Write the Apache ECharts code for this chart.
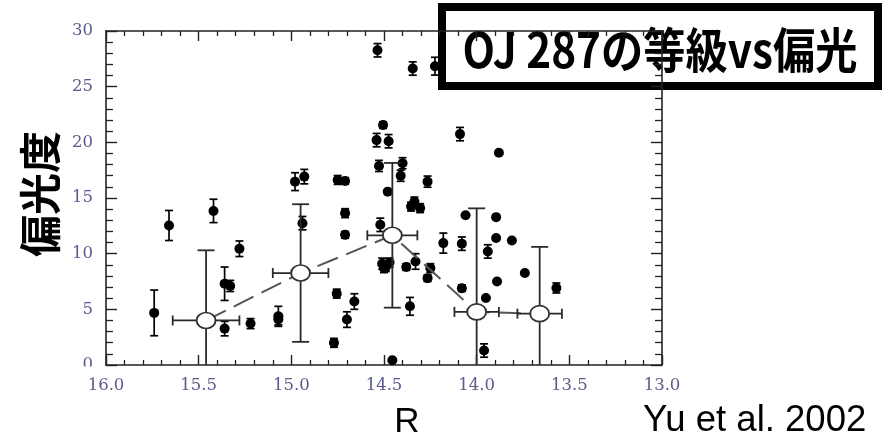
<!DOCTYPE html>
<html>
<head>
<meta charset="utf-8">
<title>OJ 287の等級vs偏光</title>
<script src="https://cdn.jsdelivr.net/npm/echarts@6/dist/echarts.min.js"></script>
<style>
  html, body { margin: 0; padding: 0; background: #fff; }
  #chart { width: 887px; height: 436px; }
</style>
</head>
<body>
<div id="chart"></div>
<script>
// Individual observations: R magnitude, polarization degree (%) and its error
const magR = [
  15.74, 15.66, 15.42, 15.36, 15.36, 15.33, 15.28, 15.22, 15.07, 15.07,
  14.98, 14.93, 14.94, 14.77, 14.755, 14.70, 14.66, 14.71, 14.71, 14.75,
  14.71, 14.535, 14.505, 14.54, 14.475, 14.527, 14.40, 14.41, 14.265, 14.48,
  14.345, 14.225, 14.09, 13.88, 14.336, 14.354, 14.305, 14.06, 14.52, 14.51,
  14.49, 14.47, 14.50, 14.38, 14.33, 14.25, 14.265, 14.36, 14.18, 14.08,
  14.08, 14.455, 13.95, 13.96, 13.94, 13.895, 13.895, 13.89, 13.81, 13.74,
  13.57
];
const polP = [
  4.68, 12.53, 13.84, 3.27, 7.3, 7.1, 10.44, 3.72, 4.37, 4.1,
  16.47, 16.92, 12.74, 1.99, 6.41, 4.08, 5.7, 13.64, 11.69, 16.62,
  16.53, 28.27, 21.55, 20.2, 20.1, 17.88, 18.12, 17.0, 16.47, 15.57,
  26.63, 26.84, 20.74, 19.07, 14.68, 14.23, 14.09, 13.45, 12.59, 9.1,
  8.8, 9.2, 8.7, 8.8, 9.3, 8.7, 7.8, 5.27, 10.95, 10.9,
  6.9, 0.43, 6.02, 1.3, 10.2, 13.28, 11.4, 7.5, 11.18, 8.26,
  6.92
];
const polErr = [
  2.05, 1.35, 1.05, 0.65, 1.5, 0.5, 0.7, 0.45, 0.9, 0.5,
  0.8, 0.65, 0.6, 0.4, 0.4, 0.7, 0.7, 0.4, 0.3, 0.4,
  0.3, 0.6, 0.3, 0.6, 0.6, 0.5, 0.5, 0.5, 0.5, 0,
  0.6, 0.8, 0.6, 0, 0.4, 0.4, 0.4, 0, 0.6, 0.5,
  0.4, 0.4, 0.4, 0.3, 0.7, 0.4, 0.3, 0.8, 0.9, 0.6,
  0.3, 0, 0, 0.6, 0.6, 0, 0, 0, 0, 0,
  0.45
];

// Binned averages with their spread in magnitude and polarization
const binR = [15.46, 14.95, 14.455, 14.00, 13.66];
const binP = [4.0, 8.26, 11.65, 4.77, 4.61];
const binRErr = [0.18, 0.15, 0.135, 0.12, 0.12];
const binPErr = [6.3, 6.18, 6.5, 9.3, 6.0];

// Axis ranges and label texts
const xMin = 13, xMax = 16, xStep = 0.5;
const yMin = 0, yMax = 30, yStep = 5;
const titleText = 'OJ 287の等級vs偏光';
const yName = '偏光度';
const xName = 'R';
const sourceText = 'Yu et al. 2002';

const obsData = magR.map((r, i) => [r, polP[i], polErr[i]]);
const binData = binR.map((r, i) => [r, binP[i], binRErr[i], binPErr[i]]);

const tickColor = '#5a5b8a';
const frameColor = '#222';

function lineEl(x1, y1, x2, y2, color, w) {
  return { type: 'line', shape: { x1, y1, x2, y2 }, style: { stroke: color, lineWidth: w } };
}

// Vertical error bars with short caps for the single observations
function renderObsErr(params, api) {
  const x = api.value(0), y = api.value(1), e = api.value(2);
  const children = [];
  if (e > 0) {
    const top = api.coord([x, y + e]);
    const low = Math.max(y - e, yMin);
    const bot = api.coord([x, low]);
    const cap = 4;
    children.push(lineEl(top[0], top[1], bot[0], bot[1], '#000', 1.7));
    children.push(lineEl(top[0] - cap, top[1], top[0] + cap, top[1], '#000', 1.7));
    if (y - e >= yMin) children.push(lineEl(bot[0] - cap, bot[1], bot[0] + cap, bot[1], '#000', 1.7));
  }
  return { type: 'group', children };
}

// Cross-shaped error bars for the binned averages
function renderBinErr(params, api) {
  const x = api.value(0), y = api.value(1), ex = api.value(2), ey = api.value(3);
  const col = '#2a2a2a', w = 1.8;
  const c = api.coord([x, y]);
  const left = api.coord([x + ex, y]);
  const right = api.coord([x - ex, y]);
  const top = api.coord([x, y + ey]);
  const low = Math.max(y - ey, yMin);
  const bot = api.coord([x, low]);
  const capV = 8.5, capH = 5;
  const children = [
    lineEl(left[0], c[1], right[0], c[1], col, w),
    lineEl(left[0], c[1] - capH, left[0], c[1] + capH, col, w),
    lineEl(right[0], c[1] - capH, right[0], c[1] + capH, col, w),
    lineEl(c[0], top[1], c[0], bot[1], col, w),
    lineEl(c[0] - capV, top[1], c[0] + capV, top[1], col, w)
  ];
  if (y - ey >= yMin) children.push(lineEl(c[0] - capV, bot[1], c[0] + capV, bot[1], col, w));
  return { type: 'group', children };
}

const tickLabelStyle = {
  fontFamily: 'DejaVu Serif',
  fontSize: 16.5,
  color: tickColor
};

function xAxisCfg(pos, labels) {
  return {
    type: 'value',
    position: pos,
    min: xMin, max: xMax, interval: xStep,
    inverse: true,
    axisLine: { show: true, onZero: false, lineStyle: { color: frameColor, width: 1.6 } },
    axisTick: { show: true, inside: true, length: 10, lineStyle: { color: frameColor, width: 1.4 } },
    minorTick: { show: true, splitNumber: 5, length: 5, lineStyle: { color: frameColor, width: 1.3 } },
    splitLine: { show: false },
    axisLabel: Object.assign({ show: labels, margin: 12, formatter: v => v.toFixed(1) }, tickLabelStyle)
  };
}

function yAxisCfg(pos, labels) {
  return {
    type: 'value',
    position: pos,
    min: yMin, max: yMax, interval: yStep,
    axisLine: { show: true, onZero: false, lineStyle: { color: frameColor, width: 1.6 } },
    axisTick: { show: true, inside: true, length: 11, lineStyle: { color: frameColor, width: 1.4 } },
    minorTick: { show: true, splitNumber: 5, length: 7, lineStyle: { color: frameColor, width: 1.3 } },
    splitLine: { show: false },
    axisLabel: Object.assign({ show: labels, margin: 13 }, tickLabelStyle)
  };
}

const xBottom = xAxisCfg('bottom', true);
xBottom.name = xName;
xBottom.nameLocation = 'middle';
xBottom.nameGap = 40;
xBottom.nameTextStyle = {
  fontFamily: 'Liberation Sans', fontSize: 35, color: '#000', padding: [0, 0, 0, 46]
};

const yLeft = yAxisCfg('left', true);
yLeft.name = yName;
yLeft.nameLocation = 'middle';
yLeft.nameGap = 43;
yLeft.nameRotate = 90;
yLeft.nameTextStyle = {
  fontFamily: 'Noto Sans CJK JP', fontSize: 42, fontWeight: 'bold', color: '#000',
  padding: [0, 0, 0, 8]
};

const chart = echarts.init(document.getElementById('chart'), null, { renderer: 'canvas' });

chart.setOption({
  backgroundColor: '#fff',
  animation: false,
  grid: { left: 106, right: 225, top: 31, bottom: 71, containLabel: false, outerBoundsMode: 'none' },
  xAxis: [xBottom, xAxisCfg('top', false)],
  yAxis: [yLeft, yAxisCfg('right', false)],
  series: [
    {
      name: 'obsErr',
      type: 'custom',
      xAxisIndex: 0, yAxisIndex: 0,
      renderItem: renderObsErr,
      data: obsData,
      z: 2,
      silent: true
    },
    {
      name: 'obs',
      type: 'scatter',
      xAxisIndex: 0, yAxisIndex: 0,
      data: obsData.map(d => [d[0], d[1]]),
      symbol: 'circle',
      symbolSize: 10,
      itemStyle: { color: '#000', opacity: 1 },
      z: 3,
      silent: true
    },
    {
      name: 'binTrend',
      type: 'line',
      xAxisIndex: 0, yAxisIndex: 0,
      data: binData.map(d => [d[0], d[1]]),
      showSymbol: false,
      symbol: 'none',
      lineStyle: { color: '#555', width: 2, type: [22, 9] },
      z: 4,
      silent: true
    },
    {
      name: 'binErr',
      type: 'custom',
      xAxisIndex: 0, yAxisIndex: 0,
      renderItem: renderBinErr,
      data: binData,
      z: 5,
      silent: true
    },
    {
      name: 'bin',
      type: 'scatter',
      xAxisIndex: 0, yAxisIndex: 0,
      data: binData.map(d => [d[0], d[1]]),
      symbol: 'circle',
      symbolSize: [19, 16],
      itemStyle: { color: '#fff', borderColor: '#333', borderWidth: 1.8, opacity: 1 },
      z: 6,
      silent: true
    }
  ],
  graphic: [
    // strip under the frame that trims the lowest y tick label
    {
      type: 'rect',
      shape: { x: 50, y: 366.5, width: 54, height: 11 },
      style: { fill: '#fff' },
      z: 50,
      silent: true
    },
    {
      type: 'group',
      z: 100,
      children: [
        {
          type: 'rect',
          shape: { x: 442, y: 7, width: 436, height: 79 },
          style: { fill: '#fff', stroke: '#000', lineWidth: 8 }
        },
        {
          type: 'text',
          x: 660, y: 50,
          scaleX: 0.88,
          style: {
            text: titleText,
            fontFamily: 'Noto Sans CJK JP',
            fontSize: 48,
            fontWeight: 'bold',
            fill: '#000',
            align: 'center',
            verticalAlign: 'middle'
          }
        }
      ]
    },
    {
      type: 'text',
      x: 643, y: 421,
      z: 100,
      style: {
        text: sourceText,
        fontFamily: 'Liberation Sans',
        fontSize: 36.5,
        fill: '#000',
        align: 'left',
        verticalAlign: 'middle'
      }
    }
  ]
});
</script>
</body>
</html>
